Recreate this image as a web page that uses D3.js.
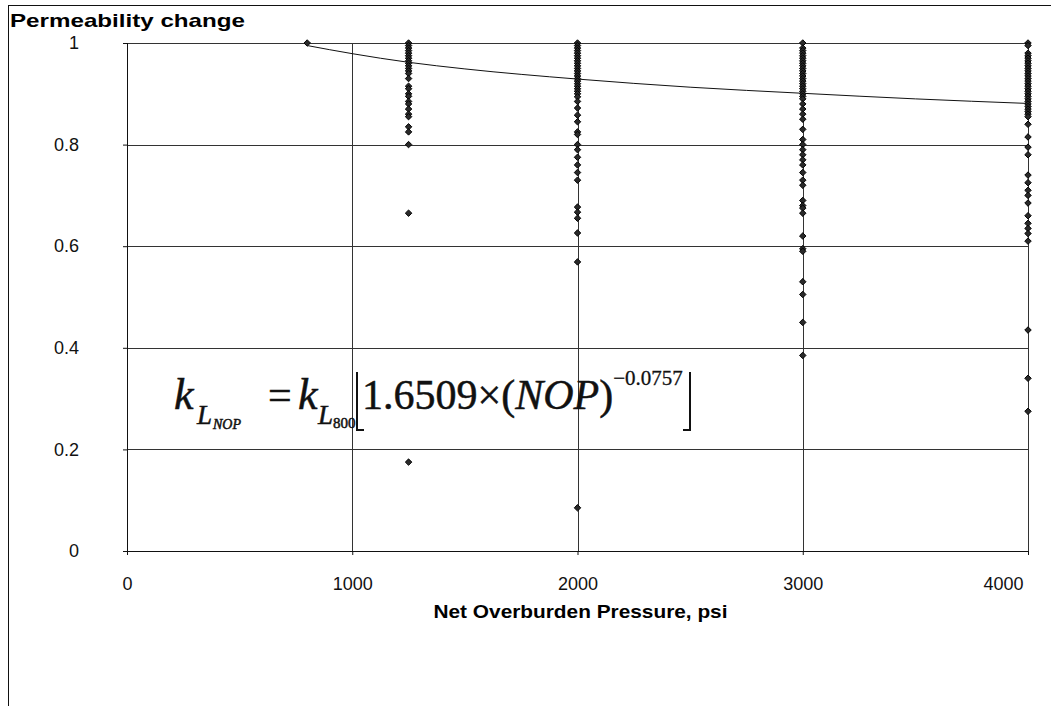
<!DOCTYPE html>
<html>
<head>
<meta charset="utf-8">
<script src="https://cdn.jsdelivr.net/npm/d3@7"></script>
<style>
    body { margin: 0; background: #fff; }
    #chart-area { width: 1051px; height: 706px; }
    .axis text { font-family: "Liberation Sans", Arial, sans-serif; font-size: 18px; fill: #111; }
    .axis path, .axis line { stroke: #111; }
    .grid line { stroke: #333; stroke-width: 1; }
    .formula text { font-family: "Liberation Serif", "Times New Roman", serif; fill: #111; stroke: #111; stroke-width: 0.5; }
</style>
</head>
<body>
<div id="chart-area"></div>
<script>

// net overburden pressure columns (psi)
let pressures = [800, 1250, 2000, 3000, 4000];

// permeability change
let perm800 = [1.0];
let perm1250 = [1.0, 0.995, 0.99, 0.985, 0.98, 0.975, 0.97, 0.965, 0.96, 0.955, 0.95, 0.945, 0.94,
    0.93, 0.915, 0.91, 0.90, 0.895, 0.885, 0.88, 0.87, 0.86, 0.855, 0.835, 0.825, 0.80, 0.665, 0.175];
let perm2000 = [1.0, 0.995, 0.99, 0.985, 0.98, 0.975, 0.97, 0.965, 0.96, 0.955, 0.95, 0.945, 0.94,
    0.935, 0.93, 0.925, 0.92, 0.915, 0.91, 0.905, 0.90, 0.894, 0.885, 0.872, 0.858, 0.845, 0.825, 0.82,
    0.80, 0.79, 0.775, 0.76, 0.745, 0.73, 0.677, 0.667, 0.655, 0.626, 0.569, 0.085];
let perm3000 = [1.0, 0.99, 0.985, 0.98, 0.975, 0.97, 0.965, 0.96, 0.955, 0.95, 0.945, 0.94, 0.935,
    0.93, 0.925, 0.92, 0.915, 0.91, 0.905, 0.90, 0.895, 0.89, 0.88, 0.87, 0.86, 0.85, 0.83, 0.81, 0.80,
    0.79, 0.78, 0.77, 0.76, 0.745, 0.73, 0.72, 0.69, 0.68, 0.675, 0.665, 0.62, 0.595, 0.59, 0.53, 0.505,
    0.45, 0.385];
let perm4000 = [1.0, 0.995, 0.98, 0.975, 0.97, 0.965, 0.96, 0.955, 0.95, 0.945, 0.94, 0.935, 0.93,
    0.925, 0.92, 0.915, 0.91, 0.905, 0.90, 0.895, 0.89, 0.885, 0.88, 0.875, 0.87, 0.865, 0.86, 0.855,
    0.84, 0.815, 0.795, 0.78, 0.74, 0.725, 0.71, 0.70, 0.685, 0.66, 0.645, 0.635, 0.625, 0.61,
    0.435, 0.34, 0.275];

// power trend line as it is drawn on the chart
let trendX = [800, 1000, 1250, 1500, 2000, 2500, 3000, 3500, 4000];
let trendY = [0.995, 0.979, 0.962, 0.949, 0.929, 0.913, 0.901, 0.890, 0.881];

let xTicks = [0, 1000, 2000, 3000, 4000];
let yTicks = [0, 0.2, 0.4, 0.6, 0.8, 1];

let titleY = "Permeability change";
let titleX = "Net Overburden Pressure, psi";


class PermVis {

    constructor(parentElement) {
        this._parentElement = parentElement;
        this.initVis();
    }

    initVis() {
        let vis = this;

        vis.margin = {top: 43, right: 23, bottom: 155, left: 127};
        vis.width = 1051 - vis.margin.left - vis.margin.right;
        vis.height = 706 - vis.margin.top - vis.margin.bottom;

        vis.root = d3.select("#" + vis._parentElement).append("svg")
            .attr("width", 1051)
            .attr("height", 706);

        // chart frame (right and bottom edges fall outside the page)
        vis.root.append("rect")
            .attr("x", 8.5).attr("y", 5.5)
            .attr("width", 1100).attr("height", 760)
            .attr("fill", "none").attr("stroke", "#111").attr("stroke-width", 1);

        // the scan is a bit wider than tall, so titles are stretched to fit
        vis.root.append("text")
            .attr("x", 10).attr("y", 27)
            .attr("font-family", "Liberation Sans, Arial, sans-serif")
            .attr("font-size", 19).attr("font-weight", "bold")
            .attr("textLength", 235).attr("lengthAdjust", "spacingAndGlyphs")
            .text(titleY);

        vis.svg = vis.root.append("g")
            .attr("transform", "translate(" + vis.margin.left + "," + vis.margin.top + ")");

        vis.x = d3.scaleLinear().domain([0, 4000]).range([0, vis.width]);
        vis.y = d3.scaleLinear().domain([0, 1]).range([vis.height, 0]);

        // gridlines
        vis.svg.append("g").attr("class", "grid")
            .selectAll("line.h").data(yTicks.filter(d => d > 0)).enter().append("line")
            .attr("x1", 0).attr("x2", vis.width)
            .attr("y1", d => Math.round(vis.y(d)) + 0.5)
            .attr("y2", d => Math.round(vis.y(d)) + 0.5);
        vis.svg.append("g").attr("class", "grid")
            .selectAll("line.v").data(xTicks.filter(d => d > 0)).enter().append("line")
            .attr("y1", 0).attr("y2", vis.height)
            .attr("x1", d => Math.round(vis.x(d)) + 0.5)
            .attr("x2", d => Math.round(vis.x(d)) + 0.5);

        vis.xAxis = d3.axisBottom(vis.x).tickValues(xTicks).tickFormat(d3.format("d"))
            .tickSize(4).tickPadding(22);
        vis.yAxis = d3.axisLeft(vis.y).tickValues(yTicks).tickFormat(d => d === 1 ? "1" : d === 0 ? "0" : d3.format(".1f")(d))
            .tickSize(4).tickPadding(44);

        vis.xAxisG = vis.svg.append("g").attr("class", "x-axis axis")
            .attr("transform", "translate(0," + vis.height + ")");
        vis.yAxisG = vis.svg.append("g").attr("class", "y-axis axis");

        vis.svg.append("text")
            .attr("x", vis.x(2000) + 3).attr("y", vis.height + 67)
            .attr("text-anchor", "middle")
            .attr("font-family", "Liberation Sans, Arial, sans-serif")
            .attr("font-size", 19).attr("font-weight", "bold")
            .attr("textLength", 294).attr("lengthAdjust", "spacingAndGlyphs")
            .text(titleX);

        vis.trendPath = vis.svg.append("path")
            .attr("fill", "none").attr("stroke", "#111").attr("stroke-width", 1);

        vis.pointsG = vis.svg.append("g");

        vis.drawFormula();
        vis.wrangleData();
    }

    wrangleData() {
        let vis = this;
        let columns = [perm800, perm1250, perm2000, perm3000, perm4000];
        vis.displayData = [];
        columns.forEach(function (col, i) {
            col.forEach(function (v) {
                vis.displayData.push({p: pressures[i], k: v});
            });
        });
        vis.trendData = trendX.map((d, i) => ({p: d, k: trendY[i]}));
        vis.updateVis();
    }

    updateVis() {
        let vis = this;

        vis.xAxisG.call(vis.xAxis);
        vis.yAxisG.call(vis.yAxis);
        vis.xAxisG.select(".domain").remove();
        vis.yAxisG.select(".domain").remove();
        vis.svg.append("line")
            .attr("x1", 0.5).attr("x2", 0.5).attr("y1", 0).attr("y2", vis.height + 4)
            .attr("stroke", "#111");
        vis.svg.append("line")
            .attr("x1", -4).attr("x2", vis.width).attr("y1", vis.height + 0.5).attr("y2", vis.height + 0.5)
            .attr("stroke", "#111");

        // last label pulled inside the frame, like the original
        vis.xAxisG.selectAll(".tick text").filter(d => d === 4000)
            .attr("text-anchor", "end").attr("x", -5);

        let line = d3.line()
            .curve(d3.curveMonotoneX)
            .x(d => vis.x(d.p))
            .y(d => vis.y(d.k));
        vis.trendPath.datum(vis.trendData).attr("d", line);

        let diamond = d3.symbol().type(d3.symbolSquare).size(21);
        vis.pointsG.selectAll("path").data(vis.displayData).enter().append("path")
            .attr("d", diamond)
            .attr("transform", d => "translate(" + vis.x(d.p) + "," + vis.y(d.k) + ") rotate(45)")
            .attr("fill", "#2a2a2a")
            .attr("stroke", "#000")
            .attr("stroke-width", 0.9);
    }

    drawFormula() {
        let vis = this;
        let f = vis.root.append("g").attr("class", "formula");
        let base = 409;

        f.append("text").attr("x", 174).attr("y", base).attr("font-size", 44).attr("font-style", "italic").text("k");
        f.append("text").attr("x", 197).attr("y", base + 15).attr("font-size", 27).attr("font-style", "italic").text("L");
        f.append("text").attr("x", 213).attr("y", base + 20).attr("font-size", 14).attr("font-style", "italic").attr("stroke-width", 0.2).text("NOP");
        f.append("text").attr("x", 268).attr("y", base).attr("font-size", 42).text("=");
        f.append("text").attr("x", 298).attr("y", base).attr("font-size", 44).attr("font-style", "italic").text("k");
        f.append("text").attr("x", 318).attr("y", base + 15).attr("font-size", 27).attr("font-style", "italic").text("L");
        f.append("text").attr("x", 333).attr("y", base + 19).attr("font-size", 15).attr("stroke-width", 0.2).text("800");

        // floor brackets
        f.append("path").attr("d", "M357,372V430H364").attr("fill", "none").attr("stroke", "#111").attr("stroke-width", 2);
        f.append("path").attr("d", "M690,372V430H683").attr("fill", "none").attr("stroke", "#111").attr("stroke-width", 2);

        let t = f.append("text").attr("x", 362).attr("y", base).attr("font-size", 42);
        t.append("tspan").text("1.6509\u00d7(");
        t.append("tspan").attr("font-style", "italic").text("NOP");
        t.append("tspan").text(")");
        t.append("tspan").attr("font-size", 21).attr("dy", -24).attr("stroke-width", 0.3).text("\u22120.0757");
    }
}

let permVis = new PermVis("chart-area");

</script>
</body>
</html>
